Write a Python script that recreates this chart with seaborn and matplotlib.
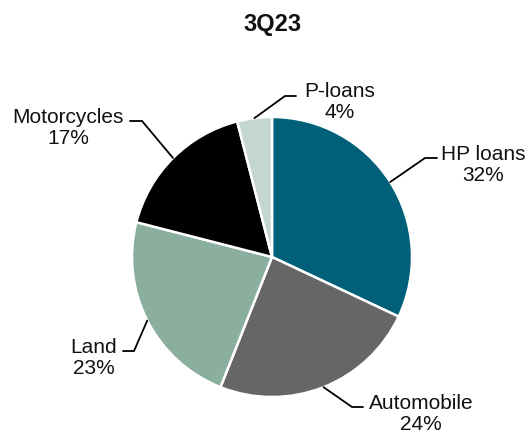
import numpy as np
import matplotlib
matplotlib.use("Agg")
import matplotlib.pyplot as plt
import seaborn as sns

categories = ["HP loans", "Automobile", "Land", "Motorcycles", "P-loans"]
values = [32, 24, 23, 17, 4]
colors = ["#00607A", "#666666", "#8BAF9F", "#000000", "#C5D6D2"]
title = "3Q23"

sns.set_theme(style="white")
plt.rcParams["font.family"] = ["Liberation Sans", "DejaVu Sans"]

W, H = 530, 435
fig = plt.figure(figsize=(W / 100, H / 100), dpi=100)
ax = fig.add_axes([0, 0, 1, 1])

cx, cy, R = 272, H - 258, 140
wedges, _ = ax.pie(values, colors=sns.color_palette(colors), startangle=90,
                   counterclock=False, radius=R, center=(cx, cy),
                   wedgeprops=dict(edgecolor="white", linewidth=1.8))
ax.set_xlim(0, W)
ax.set_ylim(0, H)
ax.set_aspect("equal")
ax.axis("off")

# layout of labels (pixel coords from top-left): elbow point, line end, text center
layout = {
    "HP loans":    ((425, 159), (437, 159), (483, 165)),
    "Automobile":  ((352, 408), (363, 408), (421, 414)),
    "Land":        ((134, 352), (123, 352), (94, 358)),
    "Motorcycles": ((142, 122), (130, 122), (68, 128)),
    "P-loans":     ((285, 97), (296, 97), (340, 102)),
}

for w, name, v in zip(wedges, categories, values):
    mid = np.deg2rad((w.theta1 + w.theta2) / 2)
    sx, sy = cx + R * np.cos(mid), cy + R * np.sin(mid)
    (ex, ey), (lx, ly), (tx, ty) = layout[name]
    ax.plot([sx, ex, lx], [sy, H - ey, H - ly], color="black", lw=1.3,
            solid_joinstyle="miter")
    ax.text(tx, H - ty, f"{name}\n{v}%", ha="center", va="center",
            fontsize=15, color="#111111", linespacing=1.15)

ax.text(272, H - 24, title, ha="center", va="center", fontsize=17,
        fontweight="bold", color="#111111")

fig.savefig("out.png", dpi=100)
